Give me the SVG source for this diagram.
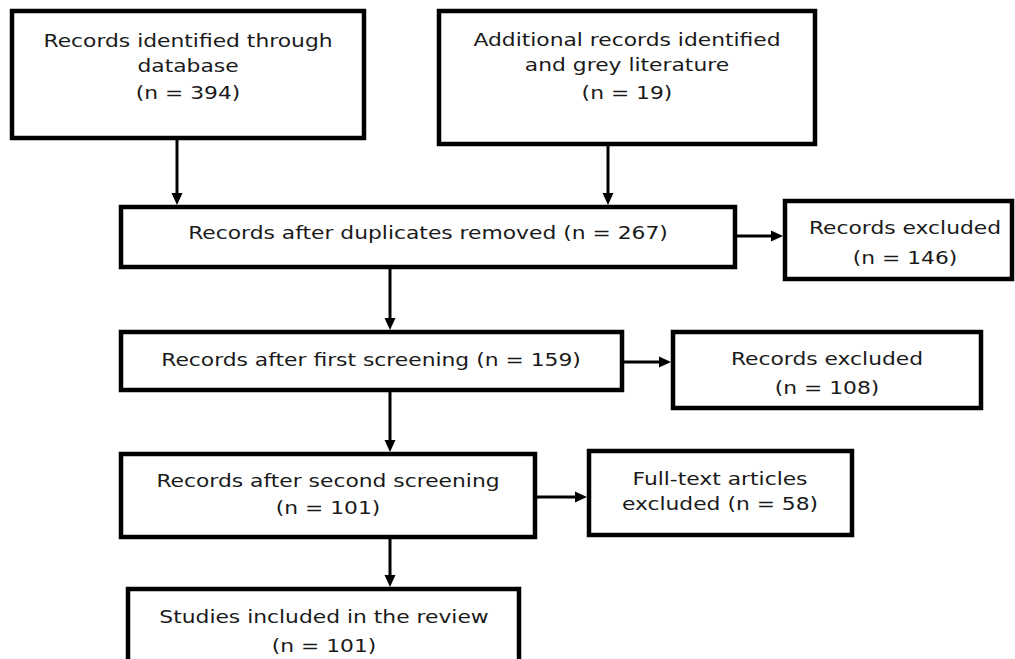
<svg xmlns="http://www.w3.org/2000/svg" width="1015" height="659" viewBox="0 0 1015 659">
<style>
.box{fill:#fff;stroke:#000;stroke-width:4.5}
.t{font-family:"DejaVu Sans",Verdana,sans-serif;font-size:18.5px;fill:#1a1a1a;text-anchor:middle}
.c{stroke:#000;stroke-width:3;fill:none;marker-end:url(#ah)}
</style>
<defs>
<marker id="ah" viewBox="0 0 12 12" refX="4" refY="6" markerWidth="12" markerHeight="12" markerUnits="userSpaceOnUse" orient="auto">
<path d="M0,0.5 L12,6 L0,11.5 z" fill="#000"/>
</marker>
</defs>
<rect width="1015" height="659" fill="#fff"/>
<g id="n1">
<rect class="box" x="12" y="11" width="352" height="127"/>
<text class="t" transform="translate(188,47) scale(1.18 1)">Records identified through</text>
<text class="t" transform="translate(188,72) scale(1.18 1)">database</text>
<text class="t" transform="translate(188,99) scale(1.18 1)">(n = 394)</text>
</g>
<g id="n2">
<rect class="box" x="439" y="11" width="376" height="133"/>
<text class="t" transform="translate(627,46) scale(1.18 1)">Additional records identified</text>
<text class="t" transform="translate(627,71) scale(1.18 1)">and grey literature</text>
<text class="t" transform="translate(627,99) scale(1.18 1)">(n = 19)</text>
</g>
<g id="n3">
<rect class="box" x="121" y="207" width="614" height="60"/>
<text class="t" transform="translate(428,239) scale(1.18 1)">Records after duplicates removed (n = 267)</text>
</g>
<g id="n4">
<rect class="box" x="785" y="201" width="227" height="78"/>
<text class="t" transform="translate(905,234) scale(1.18 1)">Records excluded</text>
<text class="t" transform="translate(905,264) scale(1.18 1)">(n = 146)</text>
</g>
<g id="n5">
<rect class="box" x="121" y="332" width="501" height="58"/>
<text class="t" transform="translate(371,366) scale(1.18 1)">Records after first screening (n = 159)</text>
</g>
<g id="n6">
<rect class="box" x="673" y="332" width="308" height="76"/>
<text class="t" transform="translate(827,365) scale(1.18 1)">Records excluded</text>
<text class="t" transform="translate(827,394) scale(1.18 1)">(n = 108)</text>
</g>
<g id="n7">
<rect class="box" x="121" y="454" width="414" height="83"/>
<text class="t" transform="translate(328,487) scale(1.18 1)">Records after second screening</text>
<text class="t" transform="translate(328,514) scale(1.18 1)">(n = 101)</text>
</g>
<g id="n8">
<rect class="box" x="589" y="451" width="263" height="84"/>
<text class="t" transform="translate(720,485) scale(1.18 1)">Full-text articles</text>
<text class="t" transform="translate(720,510) scale(1.18 1)">excluded (n = 58)</text>
</g>
<g id="n9">
<rect class="box" x="128" y="589" width="391" height="100"/>
<text class="t" transform="translate(324,623) scale(1.18 1)">Studies included in the review</text>
<text class="t" transform="translate(324,652) scale(1.18 1)">(n = 101)</text>
</g>
<g id="connectors">
<line class="c" x1="177" y1="140" x2="177" y2="197"/>
<line class="c" x1="608" y1="146" x2="608" y2="197"/>
<line class="c" x1="737" y1="236" x2="775" y2="236"/>
<line class="c" x1="390" y1="269" x2="390" y2="322"/>
<line class="c" x1="624" y1="362" x2="663" y2="362"/>
<line class="c" x1="390" y1="392" x2="390" y2="444"/>
<line class="c" x1="537" y1="497" x2="579" y2="497"/>
<line class="c" x1="390" y1="539" x2="390" y2="579"/>
</g>
</svg>
